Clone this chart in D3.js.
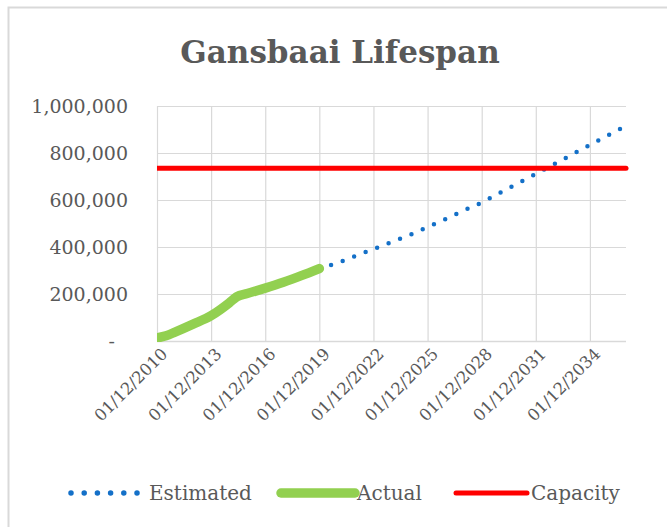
<!DOCTYPE html>
<html>
<head>
<meta charset="utf-8">
<script src="https://cdn.jsdelivr.net/npm/d3@7"></script>
<style>
  html, body { margin: 0; padding: 0; background: #fff; }
  svg { display: block; }
  text { font-family: "DejaVu Serif", serif; fill: #595959; }
</style>
</head>
<body>
<svg id="chart" width="667" height="527"></svg>
<script>
const titleText = "Gansbaai Lifespan";

const actualDates = ["2010-12-01","2011-06-01","2011-12-01","2012-12-01","2013-12-01","2014-12-01","2015-05-01","2015-12-01","2016-12-01","2017-12-01","2018-12-01","2019-12-01"];
const actualValues = [13000, 22000, 38000, 72000, 108000, 162000, 188000, 202000, 225000, 250000, 278000, 308000];

const estimatedDates = ["2019-12-01","2020-12-01","2021-12-01","2022-12-01","2023-12-01","2024-12-01","2025-12-01","2026-12-01","2027-12-01","2028-12-01","2029-12-01","2030-12-01","2031-12-01","2032-12-01","2033-12-01","2034-12-01","2035-12-01","2036-12-01"];
const estimatedValues = [308000, 332000, 362000, 391000, 421000, 451000, 485000, 519000, 555000, 589000, 630000, 670000, 711000, 752000, 793000, 834000, 875000, 916000];

const capacityDates = ["2010-12-01", "2036-12-01"];
const capacityValues = [735000, 735000];

const xTickDates = ["2010-12-01","2013-12-01","2016-12-01","2019-12-01","2022-12-01","2025-12-01","2028-12-01","2031-12-01","2034-12-01"];
const yTickValues = [0, 200000, 400000, 600000, 800000, 1000000];

const legendLabels = ["Estimated", "Actual", "Capacity"];

const parse = d3.timeParse("%Y-%m-%d");
const svg = d3.select("#chart");

const plot = { left: 157, right: 626, top: 106, bottom: 341 };

const x = d3.scaleTime()
  .domain([parse("2010-12-01"), parse("2036-12-01")])
  .range([plot.left, plot.right]);
const y = d3.scaleLinear()
  .domain([0, 1000000])
  .range([plot.bottom, plot.top]);

// outer chart border
svg.append("rect")
  .attr("x", 8.5).attr("y", 7.5)
  .attr("width", 700).attr("height", 600)
  .attr("fill", "none").attr("stroke", "#d9d9d9").attr("stroke-width", 2);

// title
svg.append("text")
  .attr("x", 340).attr("y", 63)
  .attr("text-anchor", "middle")
  .attr("font-size", 31).attr("font-weight", "bold")
  .text(titleText);

// horizontal gridlines + y labels
const yAxis = d3.axisLeft(y)
  .tickValues(yTickValues)
  .tickSize(-(plot.right - plot.left))
  .tickPadding(29)
  .tickFormat(d => d === 0 ? "-" : d3.format(",")(d));
const gy = svg.append("g").attr("transform", `translate(${plot.left},0)`).call(yAxis);
gy.select(".domain").remove();
gy.selectAll(".tick line").attr("stroke", "#d9d9d9").attr("stroke-width", 1.2);
gy.selectAll(".tick text")
  .attr("font-size", 19)
  .attr("fill", "#595959")
  .attr("font-family", "DejaVu Serif, serif")
  .attr("x", d => d === 0 ? -42 : -29);

// vertical gridlines + x labels
const xAxis = d3.axisBottom(x)
  .tickValues(xTickDates.map(parse))
  .tickSize(-(plot.bottom - plot.top))
  .tickFormat(d3.timeFormat("%d/%m/%Y"));
const gx = svg.append("g").attr("transform", `translate(0,${plot.bottom})`).call(xAxis);
gx.select(".domain").remove();
gx.selectAll(".tick line").attr("stroke", "#d9d9d9").attr("stroke-width", 1.2);
gx.selectAll(".tick text")
  .attr("font-size", 16.5)
  .attr("fill", "#595959")
  .attr("font-family", "DejaVu Serif, serif")
  .attr("text-anchor", "end")
  .attr("dy", null)
  .attr("y", 0)
  .attr("transform", "translate(11,14) rotate(-45)");

// bottom axis line
svg.append("line")
  .attr("x1", plot.left).attr("x2", plot.right)
  .attr("y1", plot.bottom + 0.5).attr("y2", plot.bottom + 0.5)
  .attr("stroke", "#d9d9d9").attr("stroke-width", 1.5);

const line = d3.line().x(d => x(d[0])).y(d => y(d[1]));

const estData = estimatedDates.map((d, i) => [parse(d), estimatedValues[i]]);
const actData = actualDates.map((d, i) => [parse(d), actualValues[i]]);
const capData = capacityDates.map((d, i) => [parse(d), capacityValues[i]]);

svg.append("clipPath").attr("id", "clip")
  .append("rect").attr("x", plot.left).attr("y", 0)
  .attr("width", plot.right - plot.left + 10).attr("height", plot.bottom + 1);

svg.append("path").datum(estData)
  .attr("d", line)
  .attr("fill", "none").attr("stroke", "#1470c8")
  .attr("stroke-width", 4.5).attr("stroke-linecap", "round")
  .attr("stroke-dasharray", "0 12.3");

svg.append("path").datum(capData)
  .attr("d", line)
  .attr("clip-path", "url(#clip)")
  .attr("fill", "none").attr("stroke", "#ff0000")
  .attr("stroke-width", 5).attr("stroke-linecap", "round");

svg.append("path").datum(actData)
  .attr("d", line)
  .attr("clip-path", "url(#clip)")
  .attr("fill", "none").attr("stroke", "#92d050")
  .attr("stroke-width", 9.5).attr("stroke-linecap", "round").attr("stroke-linejoin", "round")
  .attr("d", d3.line().curve(d3.curveMonotoneX).x(d => x(d[0])).y(d => y(d[1])));

// legend
const legendY = 493;
const legendItems = [
  { label: legendLabels[0], x1: 71, x2: 137, tx: 149, color: "#1470c8", width: 5.5, dash: "0 13.2" },
  { label: legendLabels[1], x1: 281, x2: 355, tx: 357, color: "#92d050", width: 9.5, dash: null },
  { label: legendLabels[2], x1: 456, x2: 527, tx: 531, color: "#ff0000", width: 5, dash: null }
];
const lg = svg.append("g");
legendItems.forEach(it => {
  lg.append("line")
    .attr("x1", it.x1).attr("x2", it.x2)
    .attr("y1", legendY).attr("y2", legendY)
    .attr("stroke", it.color).attr("stroke-width", it.width)
    .attr("stroke-linecap", "round")
    .attr("stroke-dasharray", it.dash);
  lg.append("text")
    .attr("x", it.tx).attr("y", legendY + 7)
    .attr("font-size", 20)
    .text(it.label);
});
</script>
</body>
</html>
